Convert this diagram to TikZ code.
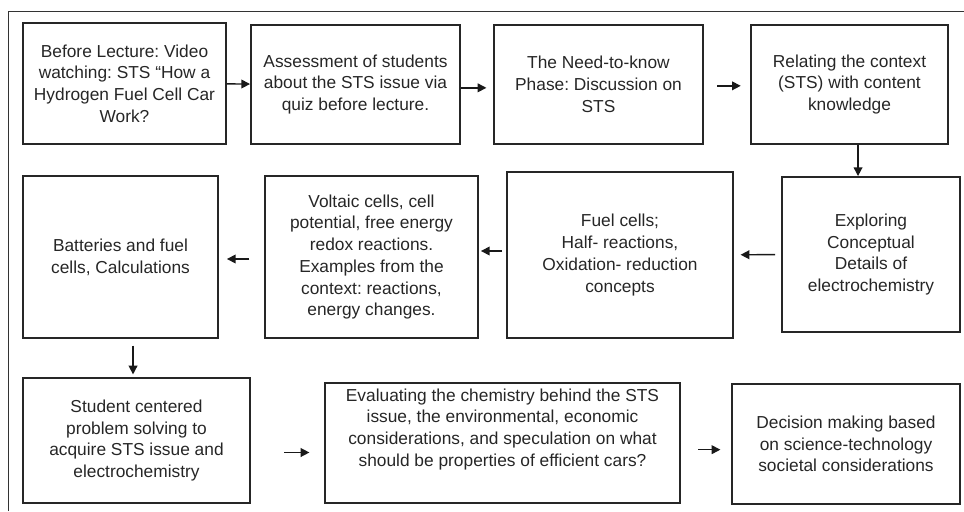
\documentclass[tikz,border=0pt]{standalone}
\usepackage{fontspec}
\setmainfont{Liberation Sans}
\frenchspacing
\usetikzlibrary{arrows.meta}
\begin{document}
\begin{tikzpicture}[x=.75pt,y=-.75pt,
	box/.style={draw=black!85,line width=1.4pt,align=center,inner sep=2pt,text=black!85,font=\fontsize{13}{16.3}\selectfont},
	arr/.style={-{Triangle[length=6.5pt,width=6.5pt]},line width=1.1pt,black!90}]
		\useasboundingbox (0,0) rectangle (964,511);
		\draw[line width=.6pt,black!80] (8,511) -- (8,11) -- (964,11);
		
		% first row
		\node[box,minimum width=152.25pt,minimum height=90.75pt] (video) at (124.5,83.5) {Before Lecture: Video\\watching: STS “How a\\Hydrogen Fuel Cell Car\\Work?};
		\node[box,minimum width=156.75pt,minimum height=89.25pt] (quiz) at (355.5,84.5) {Assessment of students\\about the STS issue via\\quiz before lecture.};
		\node[box,minimum width=156.75pt,minimum height=89.25pt] (need) at (598.5,84.5) {The Need-to-know\\Phase: Discussion on\\STS};
		\node[box,minimum width=147.75pt,minimum height=89.25pt] (relate) at (849.5,84.5) {Relating the context\\(STS) with content\\knowledge};
		
		% second row
		\node[box,minimum width=133.5pt,minimum height=116.25pt] (explore) at (871,254.5) {Exploring\\Conceptual\\Details of\\electrochemistry};
		\node[box,minimum width=169.5pt,minimum height=124.5pt] (fuel) at (620,255) {Fuel cells;\\Half- reactions,\\Oxidation- reduction\\concepts};
		\node[box,minimum width=159.75pt,minimum height=121.5pt] (voltaic) at (371.5,257) {Voltaic cells, cell\\potential, free energy\\redox reactions.\\Examples from the\\context: reactions,\\energy changes.};
		\node[box,minimum width=146.25pt,minimum height=121.5pt] (batt) at (120.5,257) {Batteries and fuel\\cells, Calculations};
		
		% third row
		\node[box,minimum width=170.25pt,minimum height=93.75pt] (solve) at (136.5,440.5) {Student centered\\problem solving to\\acquire STS issue and\\electrochemistry};
		\node[box,minimum width=266.25pt,minimum height=90pt] (eval) at (502.5,443) {Evaluating the chemistry behind the STS\\issue, the environmental, economic\\considerations, and speculation on what\\should be properties of efficient cars?\\[7pt]};
		\node[box,minimum width=171pt,minimum height=90pt] (decide) at (846,444) {Decision making based\\on science-technology\\societal considerations};
		
		\draw[arr] (video) -- (quiz);
		\draw[arr,shorten >=5pt] ([yshift=-2.5pt]quiz.east) -- ([yshift=-2.5pt]quiz.east -| need.west);
		\draw[arr,shorten <=10pt,shorten >=7pt] ([yshift=-1pt]need.east) -- ([yshift=-1pt]need.east -| relate.west);
		\draw[arr] ([xshift=6.4pt]relate.south) -- ([xshift=6.4pt]relate.south |- explore.north);
		\draw[arr,shorten <=4.5pt,shorten >=5pt] (explore) -- (fuel);
		\draw[arr,shorten <=3pt,shorten >=1.5pt] ([yshift=3pt]fuel.west) -- ([yshift=3pt]fuel.west -| voltaic.east);
		\draw[arr,shorten <=11pt,shorten >=6pt] ([yshift=-1.5pt]voltaic.west) -- ([yshift=-1.5pt]voltaic.west -| batt.east);
		\draw[arr,shorten <=5pt,shorten >=2pt] ([xshift=9.4pt]batt.south) -- ([xshift=9.4pt]batt.south |- solve.north);
		\draw[arr,shorten <=25pt,shorten >=11pt] ([yshift=-9pt]solve.east) -- ([yshift=-9pt]solve.east -| eval.west);
		\draw[arr,shorten <=13pt,shorten >=8pt] ([yshift=-5pt]eval.east) -- ([yshift=-5pt]eval.east -| decide.west);
		\end{tikzpicture}
\end{document}
